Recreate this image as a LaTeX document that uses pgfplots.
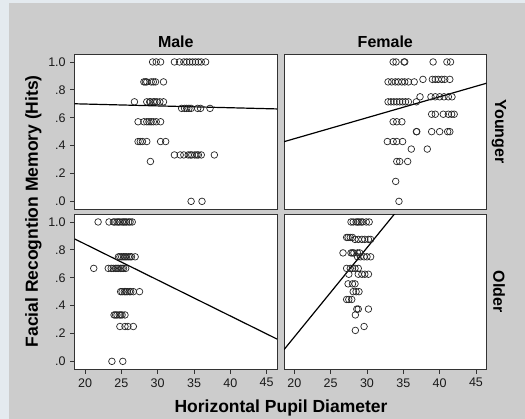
\documentclass[border=0pt]{standalone}
\usepackage{pgfplots}
\pgfplotsset{compat=1.18}
\usepackage{fontspec}
\setmainfont{Liberation Sans}

\definecolor{fondo}{HTML}{E4EAEF}
\definecolor{marco}{HTML}{CCCCCC}

\pgfplotsset{
    panel/.style={
        scale only axis,
        width=202.3pt, height=155pt,
        xmin=18.58, xmax=46.42,
        ymin=-0.057, ymax=1.055,
        axis background/.style={fill=white},
        axis line style={black!80, line width=0.8pt},
        tick style={black!80, line width=0.8pt},
        tick align=outside,
        major tick length=4.5pt,
        xtick={20,25,30,35,40,45},
        xticklabels={20,25,30,35,40,45},
        ytick={0,0.2,0.4,0.6,0.8,1},
        yticklabels={.0,.2,.4,.6,.8,1.0},
        tick label style={font=\fontsize{12.5}{13}\selectfont, text=black!90},
        xticklabel style={yshift=-1pt},
        yticklabel style={xshift=-1pt},
        xtick pos=bottom, ytick pos=left,
        clip=true,
    },
    puntos/.style={only marks, mark=o, mark size=3.3pt,
        mark options={draw=black!85, line width=0.7pt}},
    recta/.style={no marks, black, line width=1.2pt},
}

\begin{document}
\begin{tikzpicture}
% fondo
\fill[fondo] (0pt,0pt) rectangle (525pt,419pt);
\fill[marco] (9pt,0pt) rectangle (525pt,416pt);

% === Male / Younger ===
\begin{axis}[panel, at={(74.7pt,209.7pt)}, anchor=south west, xtick=\empty]
\addplot[puntos] coordinates {
 (29.3,1) (29.8,1) (30.4,1) (32.3,1) (33.0,1) (33.6,1) (34.0,1) (34.4,1) (34.8,1) (35.2,1) (35.6,1) (36.0,1) (36.6,1)
 (28.1,0.857) (28.3,0.857) (28.5,0.857) (29.1,0.857) (29.4,0.857) (29.7,0.857) (30.8,0.857)
 (26.8,0.714) (28.5,0.714) (28.9,0.714) (29.0,0.714) (29.4,0.714) (29.6,0.714) (29.9,0.714) (30.3,0.714) (30.8,0.714)
 (33.3,0.667) (33.7,0.667) (34.0,0.667) (34.3,0.667) (34.6,0.667) (35.5,0.667) (35.9,0.667) (37.2,0.667)
 (27.3,0.571) (28.1,0.571) (28.5,0.571) (28.8,0.571) (29.1,0.571) (29.4,0.571) (29.8,0.571) (30.4,0.571)
 (27.3,0.429) (27.6,0.429) (27.9,0.429) (28.5,0.429) (30.4,0.429) (31.1,0.429)
 (32.3,0.333) (33.1,0.333) (33.6,0.333) (34.2,0.333) (34.5,0.333) (34.7,0.333) (35.1,0.333) (35.4,0.333) (35.6,0.333) (36.0,0.333) (37.8,0.333)
 (29.0,0.286)
 (34.6,0) (36.1,0)
};
\addplot[recta] coordinates {(18.58,0.700) (46.42,0.663)};
\end{axis}

% === Female / Younger ===
\begin{axis}[panel, at={(284pt,209.7pt)}, anchor=south west, xtick=\empty, ytick=\empty]
\addplot[puntos] coordinates {
 (33.6,1) (34.0,1) (35.1,1) (35.2,1) (39.1,1) (41.0,1) (41.5,1)
 (37.7,0.875) (39.0,0.875) (39.4,0.875) (39.8,0.875) (40.3,0.875) (40.7,0.875) (41.4,0.875)
 (32.9,0.857) (33.4,0.857) (33.9,0.857) (34.3,0.857) (34.8,0.857) (35.2,0.857) (35.7,0.857) (36.5,0.857)
 (37.3,0.75) (38.8,0.75) (39.4,0.75) (40.0,0.75) (40.6,0.75) (41.2,0.75) (41.7,0.75)
 (32.9,0.714) (33.3,0.714) (33.7,0.714) (34.1,0.714) (34.5,0.714) (34.9,0.714) (35.3,0.714) (35.7,0.714) (36.8,0.714)
 (38.9,0.625) (39.4,0.625) (40.5,0.625) (41.2,0.625) (41.65,0.625) (42.0,0.625)
 (33.6,0.571) (34.1,0.571) (34.8,0.571)
 (36.8,0.5) (36.85,0.5) (38.9,0.5) (40.0,0.5) (41.1,0.5) (41.4,0.5)
 (32.8,0.429) (33.6,0.429) (34.1,0.429) (34.9,0.429)
 (36.1,0.375) (38.3,0.375)
 (34.1,0.286) (34.5,0.286) (35.6,0.286)
 (33.95,0.143)
 (34.4,0)
};
\addplot[recta] coordinates {(18.58,0.428) (46.42,0.847)};
\end{axis}

% === Male / Older ===
\begin{axis}[panel, at={(74.7pt,49.7pt)}, anchor=south west]
\addplot[puntos] coordinates {
 (21.8,1) (23.3,1) (23.9,1) (24.1,1) (24.4,1) (24.6,1) (24.8,1) (25.1,1) (25.3,1) (25.5,1) (25.7,1) (26.0,1) (26.2,1) (26.5,1)
 (24.6,0.75) (24.8,0.75) (25.05,0.75) (25.3,0.75) (25.5,0.75) (25.7,0.75) (25.96,0.75) (26.2,0.75) (26.4,0.75) (26.9,0.75)
 (21.2,0.667) (23.2,0.667) (23.6,0.667) (23.9,0.667) (24.2,0.667) (24.4,0.667) (24.6,0.667) (24.9,0.667) (25.1,0.667) (25.3,0.667) (25.6,0.667)
 (24.9,0.5) (25.1,0.5) (25.4,0.5) (25.6,0.5) (25.8,0.5) (26.1,0.5) (26.3,0.5) (26.65,0.5) (27.5,0.5)
 (24.0,0.333) (24.2,0.333) (24.4,0.333) (24.7,0.333) (24.9,0.333) (25.1,0.333) (25.5,0.333)
 (24.8,0.25) (25.5,0.25) (25.9,0.25) (26.65,0.25)
 (23.7,0) (25.2,0)
};
\addplot[recta] coordinates {(18.58,0.878) (46.42,0.160)};
\end{axis}

% === Female / Older ===
\begin{axis}[panel, at={(284pt,49.7pt)}, anchor=south west, ytick=\empty]
\addplot[puntos] coordinates {
 (27.8,1) (28.1,1) (28.5,1) (28.7,1) (28.9,1) (29.2,1) (29.4,1) (29.9,1) (30.3,1)
 (27.2,0.889) (27.4,0.889) (27.7,0.889) (28.0,0.889)
 (28.35,0.875) (28.8,0.875) (29.3,0.875) (29.7,0.875) (30.2,0.875) (30.5,0.875)
 (26.7,0.778) (27.8,0.778) (28.0,0.778) (28.2,0.778) (28.7,0.778) (29.0,0.778)
 (28.7,0.75) (29.1,0.75) (29.6,0.75) (30.0,0.75) (30.5,0.75)
 (27.2,0.667) (27.7,0.667) (28.0,0.667) (28.35,0.667) (28.8,0.667)
 (27.5,0.625) (28.8,0.625) (29.3,0.625) (29.7,0.625) (30.2,0.625)
 (27.4,0.556) (28.0,0.556) (28.35,0.556)
 (28.1,0.5) (28.5,0.5) (28.9,0.5)
 (27.2,0.444) (27.5,0.444) (27.9,0.444)
 (28.6,0.375) (28.8,0.375) (30.2,0.375)
 (28.4,0.333)
 (29.6,0.25)
 (28.4,0.222)
};
\addplot[recta] coordinates {(18.58,0.084) (34.5,1.103)};
\end{axis}

% === Rótulos ===
\node[font=\bfseries\fontsize{16}{16}\selectfont] at (175.8pt,377.3pt) {Male};
\node[font=\bfseries\fontsize{16}{16}\selectfont] at (385.3pt,377.3pt) {Female};
\node[font=\bfseries\fontsize{16}{16}\selectfont, rotate=-90] at (499pt,287.2pt) {Younger};
\node[font=\bfseries\fontsize{16}{16}\selectfont, rotate=-90] at (499pt,127.2pt) {Older};
\node[font=\bfseries\fontsize{17.5}{18}\selectfont, rotate=90] at (33.3pt,207.7pt) {Facial Recogntion Memory (Hits)};
\node[font=\bfseries\fontsize{17.5}{18}\selectfont] at (281pt,11.5pt) {Horizontal Pupil Diameter};

\pgfresetboundingbox
\path[use as bounding box] (0pt,0pt) rectangle (525pt,419pt);
\end{tikzpicture}
\end{document}
